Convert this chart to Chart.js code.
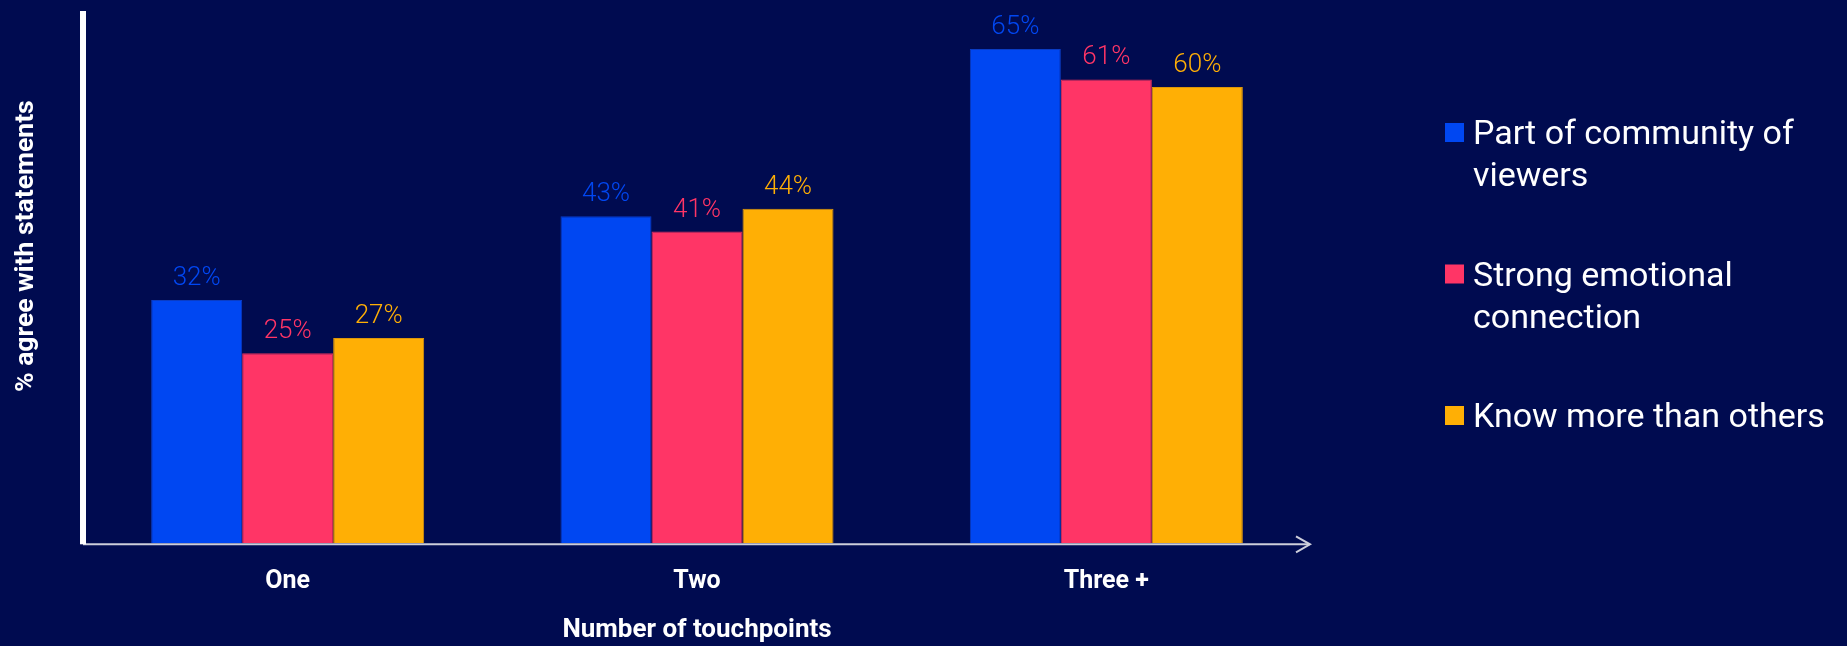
<!DOCTYPE html>
<html>
<head>
<meta charset="utf-8">
<title>Touchpoints</title>
<script src="https://cdn.jsdelivr.net/npm/chart.js@4/dist/chart.umd.min.js"></script>
<style>
  html, body { margin: 0; padding: 0; background: #000B50; }
  canvas { display: block; }
</style>
</head>
<body>
<canvas id="myCanvas" width="1847" height="646"></canvas>
<script>
// data
const categories = ['One', 'Two', 'Three +'];
const seriesNames = [
  ['Part of community of', 'viewers'],
  ['Strong emotional', 'connection'],
  ['Know more than others']
];
const community = [32, 43, 65];
const emotional = [25, 41, 61];
const knowMore = [27, 44, 60];
const barColors = ['#0047F2', '#FF3566', '#FFAF05'];
const edgeColors = ['#0A3CC4', '#E02E5A', '#DB960A'];

const font = 'Roboto';

// axis lines, arrow, % labels, y title and the legend
const decorations = {
  id: 'decorations',
  afterDatasetsDraw(chart){
    const ctx = chart.ctx;
    const area = chart.chartArea;
    ctx.save();

    // % labels above every bar
    ctx.font = `300 26px ${font}`;
    ctx.textAlign = 'center';
    ctx.textBaseline = 'alphabetic';
    chart.data.datasets.forEach((ds, i)=>{
      const meta = chart.getDatasetMeta(i);
      meta.data.forEach((bar, j)=>{
        ctx.fillStyle = barColors[i];
        ctx.fillText(`${ds.data[j]}%`, bar.x, bar.y - 15);
      });
    });

    // x axis with arrow head
    ctx.strokeStyle = '#CDCFDB';
    ctx.lineWidth = 2;
    ctx.beginPath();
    ctx.moveTo(area.left, area.bottom + 1);
    ctx.lineTo(area.right - 1, area.bottom + 1);
    ctx.stroke();
    ctx.beginPath();
    ctx.moveTo(area.right - 15, area.bottom - 7);
    ctx.lineTo(area.right - 1, area.bottom + 1);
    ctx.lineTo(area.right - 15, area.bottom + 9);
    ctx.stroke();

    // y axis
    ctx.fillStyle = '#FFFFFF';
    ctx.fillRect(area.left - 3, area.top, 6, area.bottom - area.top + 1);

    // y title
    ctx.save();
    ctx.translate(area.left - 50, (area.top + area.bottom) / 2 - 31);
    ctx.rotate(-Math.PI / 2);
    ctx.font = `bold 26.5px ${font}`;
    ctx.textAlign = 'center';
    ctx.fillText('% agree with statements', 0, 0);
    ctx.restore();

    // legend
    const boxX = area.right + 134;
    let y = 143;
    ctx.font = `400 34px ${font}`;
    ctx.textAlign = 'left';
    seriesNames.forEach((lines, i)=>{
      ctx.fillStyle = barColors[i];
      ctx.fillRect(boxX, y - 20, 19, 19);
      ctx.fillStyle = '#FFFFFF';
      lines.forEach((line, k)=>{
        ctx.fillText(line, boxX + 28, y + 1 + k * 42.4);
      });
      y += 141.5;
    });

    ctx.restore();
  }
};

const ctx = document.querySelector('#myCanvas').getContext('2d');
const myChart = new Chart(ctx, {
  type: 'bar',
  data: {
    labels: categories,
    datasets: [community, emotional, knowMore].map((values, i)=>({
      label: seriesNames[i].join(' '),
      data: values,
      backgroundColor: barColors[i],
      borderColor: edgeColors[i],
      borderWidth: 1,
      categoryPercentage: 0.667,
      barPercentage: 1
    }))
  },
  options: {
    responsive: false,
    animation: false,
    layout: {
      padding: { left: 83, right: 536, top: 11, bottom: 0 }
    },
    plugins: {
      legend: { display: false },
      tooltip: { enabled: false }
    },
    scales: {
      x: {
        grid: { display: false, drawTicks: false },
        border: { display: false },
        ticks: {
          color: '#FFFFFF',
          padding: 23,
          font: { family: font, size: 25, weight: 'bold' }
        },
        title: {
          display: true,
          text: 'Number of touchpoints',
          color: '#FFFFFF',
          padding: { top: -4.5, bottom: 0 },
          font: { family: font, size: 26, weight: 'bold' }
        }
      },
      y: {
        display: false,
        min: 0,
        max: 70
      }
    }
  },
  plugins: [decorations]
});
</script>
</body>
</html>
